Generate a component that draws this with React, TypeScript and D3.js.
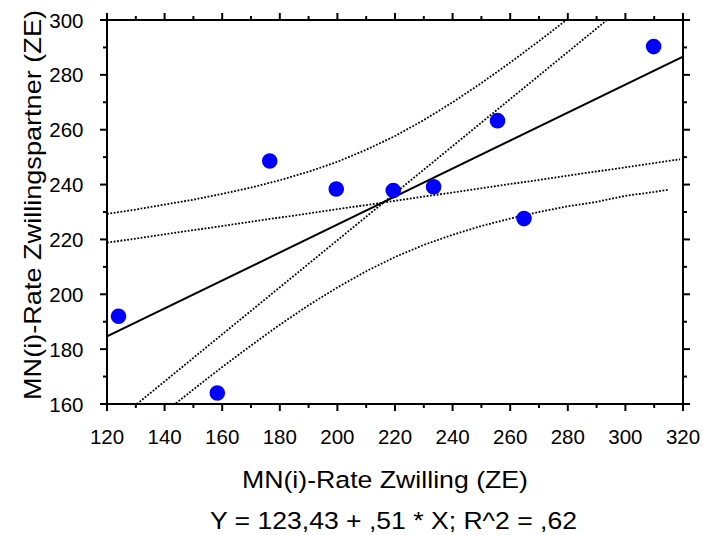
import React from "react";
import * as d3 from "d3";

const twinX = [124, 158.3, 176.5, 199.6, 219.4, 233.4, 255.6, 264.8, 309.8];
const partnerY = [192, 164, 248.6, 238.4, 237.8, 239.2, 263.3, 227.6, 290.3];

const intercept = 123.43;
const slope = 0.51;

const upperBandX = [120, 130, 140, 150, 160, 170, 180, 190, 200, 210, 220, 230, 240, 250, 260, 270, 280];
const upperBandY = [229.3, 230.9, 232.7, 234.5, 236.6, 238.9, 241.6, 244.7, 248.3, 252.7, 257.7, 263.5, 270.0, 277.0, 284.5, 292.3, 300.4];

const lowerBandX = [143, 150, 160, 170, 180, 190, 200, 210, 220, 230, 240, 250, 260, 270, 280, 290, 300, 310, 315];
const lowerBandY = [159.5, 165.3, 173.5, 181.3, 188.9, 196.0, 202.5, 208.4, 213.6, 218.0, 221.7, 224.9, 227.6, 230.0, 232.1, 233.7, 235.9, 237.3, 238.1];

const shallowX = [120, 319];
const shallowY = [218.8, 249.2];
const steepX = [130.4, 293.6];
const steepY = [160, 300];

const xTicks = [120, 140, 160, 180, 200, 220, 240, 260, 280, 300, 320];
const yTicks = [160, 180, 200, 220, 240, 260, 280, 300];

const xTitle = "MN(i)-Rate Zwilling (ZE)";
const yTitle = "MN(i)-Rate Zwillingspartner (ZE)";
const equation = "Y = 123,43 + ,51 * X; R^2 = ,62";

export default function App() {
  const L = 107, R = 683, T = 20, B = 404;
  const x = d3.scaleLinear().domain([120, 320]).range([L, R]);
  const y = d3.scaleLinear().domain([160, 300]).range([B, T]);
  const line = d3.line<[number, number]>().x(d => x(d[0])).y(d => y(d[1]));
  const zip = (a: number[], b: number[]) => a.map((v, i) => [v, b[i]] as [number, number]);
  const minorX = d3.range(130, 320, 20);
  const minorY = d3.range(170, 300, 20);
  const font = "'Liberation Sans', Arial, sans-serif";
  const dot = { fill: "none", stroke: "#000", strokeWidth: 1.8, strokeDasharray: "1.8 1.6" };
  return (
    <svg width={703} height={535} style={{ position: "absolute", left: 0, top: 0 }} fontFamily={font}>
      <rect width={703} height={535} fill="#fff" />
      <defs>
        <clipPath id="plot">
          <rect x={L} y={T} width={R - L} height={B - T} />
        </clipPath>
      </defs>
      <g clipPath="url(#plot)">
        <path d={line(zip(upperBandX, upperBandY)) || ""} {...dot} />
        <path d={line(zip(lowerBandX, lowerBandY)) || ""} {...dot} />
        <path d={line(zip(shallowX, shallowY)) || ""} {...dot} />
        <path d={line(zip(steepX, steepY)) || ""} {...dot} />
        <path d={line([[120, intercept + slope * 120], [320, intercept + slope * 320]]) || ""} fill="none" stroke="#000" strokeWidth={2} />
      </g>
      {twinX.map((v, i) => (
        <circle key={i} cx={x(v)} cy={y(partnerY[i])} r={7.8} fill="#0000ff" />
      ))}
      <g stroke="#000" strokeWidth={2}>
        <rect x={L} y={T} width={R - L} height={B - T} fill="none" />
        {xTicks.map(t => (
          <g key={"x" + t}>
            <line x1={x(t)} x2={x(t)} y1={B} y2={B + 7} />
            <line x1={x(t)} x2={x(t)} y1={T} y2={T - 7} />
          </g>
        ))}
        {minorX.map(t => (
          <g key={"mx" + t}>
            <line x1={x(t)} x2={x(t)} y1={B} y2={B + 4} />
            <line x1={x(t)} x2={x(t)} y1={T} y2={T - 4} />
          </g>
        ))}
        {yTicks.map(t => (
          <g key={"y" + t}>
            <line x1={L} x2={L - 7} y1={y(t)} y2={y(t)} />
            <line x1={R} x2={R + 7} y1={y(t)} y2={y(t)} />
          </g>
        ))}
        {minorY.map(t => (
          <g key={"my" + t}>
            <line x1={L} x2={L - 4} y1={y(t)} y2={y(t)} />
            <line x1={R} x2={R + 4} y1={y(t)} y2={y(t)} />
          </g>
        ))}
      </g>
      {xTicks.map(t => (
        <text key={"xl" + t} x={x(t)} y={444} fontSize={20.5} textAnchor="middle">{t}</text>
      ))}
      {yTicks.map(t => (
        <text key={"yl" + t} x={83.5} y={y(t) + 7.5} fontSize={20.5} textAnchor="end">{t}</text>
      ))}
      <text x={242} y={488} fontSize={24.5} textLength={286} lengthAdjust="spacingAndGlyphs">{xTitle}</text>
      <text x={210} y={529} fontSize={24.5} textLength={367} lengthAdjust="spacingAndGlyphs">{equation}</text>
      <text transform={`translate(41, 400) rotate(-90)`} fontSize={24.5} textLength={390} lengthAdjust="spacingAndGlyphs">{yTitle}</text>
    </svg>
  );
}
